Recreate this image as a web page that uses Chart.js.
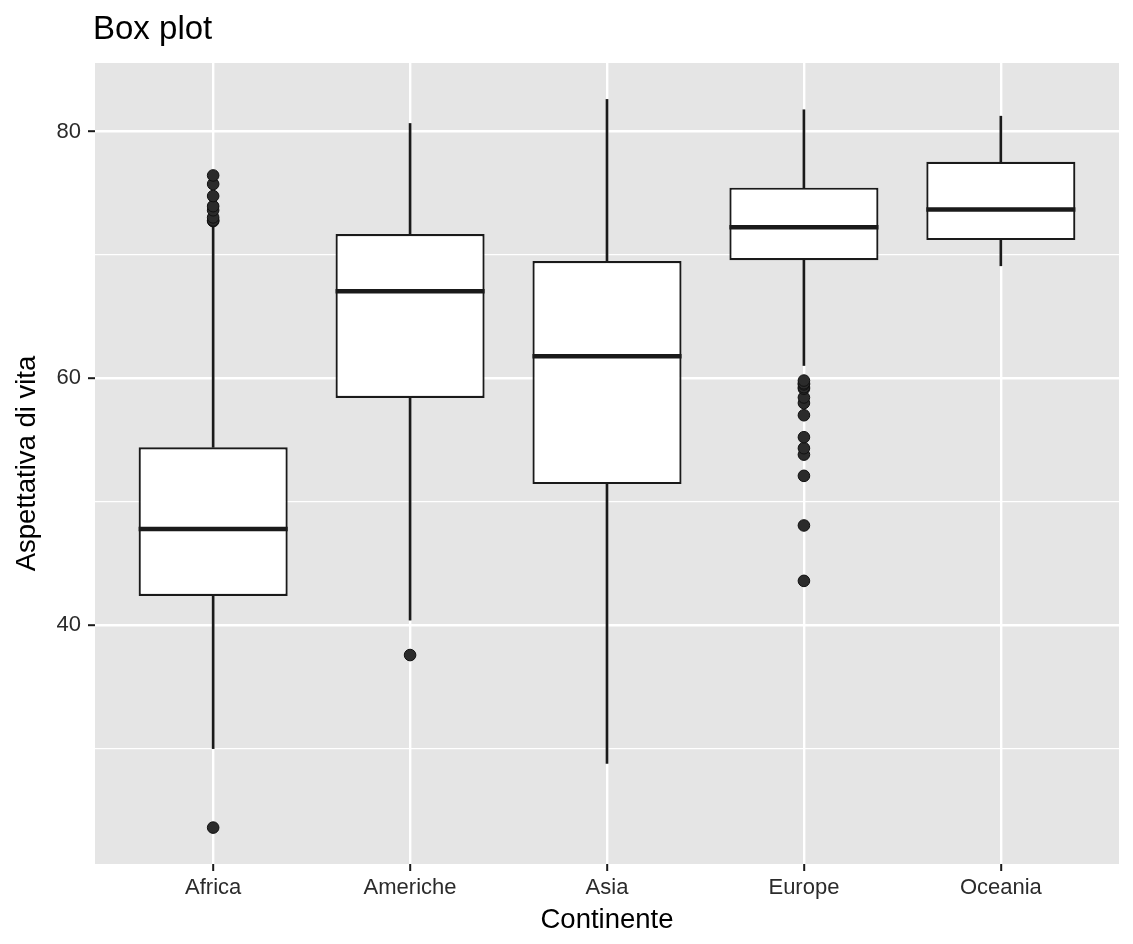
<!DOCTYPE html>
<html>
<head>
<meta charset="utf-8">
<title>Box plot</title>
<script src="https://cdn.jsdelivr.net/npm/chart.js@4.4.1/dist/chart.umd.min.js"></script>
<style>
    html, body { margin: 0; padding: 0; background: #ffffff; }
    #wrap { width: 1133px; height: 944px; position: relative; }
</style>
</head>
<body>
<div id="wrap"><canvas id="boxChart"></canvas></div>
<script>
// Life expectancy per continent
const continents = ['Africa', 'Americhe', 'Asia', 'Europe', 'Oceania'];
const lowerWhisker = [30.00, 40.41, 28.80, 61.04, 69.12];
const lowerQuartile = [42.37, 58.41, 51.43, 69.57, 71.20];
const medians = [47.79, 67.05, 61.79, 72.24, 73.67];
const upperQuartile = [54.41, 71.70, 69.51, 75.45, 77.55];
const upperWhisker = [72.30, 80.65, 82.60, 81.76, 81.24];

// Outliers, one list per continent
const africaOutliers = [23.60, 72.74, 72.80, 73.04, 73.62, 73.95, 74.77, 75.74, 76.44];
const americheOutliers = [37.58];
const asiaOutliers = [];
const europeOutliers = [43.59, 48.08, 52.10, 53.82, 54.34, 55.23, 57.01, 58.00, 58.45, 59.16, 59.28, 59.51, 59.60, 59.82];
const oceaniaOutliers = [];

const yTicks = [30, 40, 50, 60, 70, 80];
const yMajorTicks = [40, 60, 80];
const yMin = 20.65;
const yMax = 85.55;

// continents sit at positions 1..5, ggplot pads a discrete axis by 0.6
const xPositions = continents.map((c, i) => i + 1);
const xMin = 0.4;
const xMax = 5.6;

const FONT = '"Liberation Sans", Arial, Helvetica, sans-serif';
const INK = '#1A1A1A';

const outlierPoints = [africaOutliers, americheOutliers, asiaOutliers, europeOutliers, oceaniaOutliers]
    .flatMap((list, i) => list.map(v => ({ x: xPositions[i], y: v })));

// Grey panel behind the grid, like ggplot's theme_grey
const panelBackground = {
    id: 'panelBackground',
    beforeDraw(chart) {
        const { ctx, chartArea } = chart;
        ctx.save();
        ctx.fillStyle = '#E5E5E5';
        ctx.fillRect(chartArea.left, chartArea.top, chartArea.right - chartArea.left, chartArea.bottom - chartArea.top);
        ctx.restore();
    }
};

// Median bars across each box, plus the plot title
const medianLines = {
    id: 'medianLines',
    afterDatasetsDraw(chart) {
        const { ctx } = chart;
        const yScale = chart.scales.y;
        const boxes = chart.getDatasetMeta(0).data;
        ctx.save();
        ctx.strokeStyle = INK;
        ctx.lineWidth = 4.5;
        boxes.forEach((bar, i) => {
            const y = yScale.getPixelForValue(medians[i]);
            const half = bar.width / 2;
            ctx.beginPath();
            ctx.moveTo(bar.x - half, y);
            ctx.lineTo(bar.x + half, y);
            ctx.stroke();
        });
        ctx.restore();
    },
    afterDraw(chart) {
        const { ctx, chartArea } = chart;
        ctx.save();
        ctx.font = '33px ' + FONT;
        ctx.fillStyle = '#000000';
        ctx.textBaseline = 'alphabetic';
        ctx.textAlign = 'left';
        ctx.fillText('Box plot', chartArea.left - 2, 39);
        ctx.restore();
    }
};

const whiskerStyle = {
    type: 'bar',
    backgroundColor: INK,
    borderWidth: 0,
    barThickness: 2,
    grouped: false
};

const config = {
    type: 'bar',
    data: {
        datasets: [
            {
                label: 'box',
                data: xPositions.map((x, i) => ({ x: x, y: [lowerQuartile[i], upperQuartile[i]] })),
                backgroundColor: '#FFFFFF',
                borderColor: INK,
                borderWidth: 2.2,
                borderSkipped: false,
                barPercentage: 0.757,
                categoryPercentage: 1,
                grouped: false
            },
            {
                label: 'outliers',
                type: 'line',
                data: outlierPoints,
                showLine: false,
                pointRadius: 5.8,
                pointBackgroundColor: '#2B2B2B',
                pointBorderColor: '#111111',
                pointBorderWidth: 1
            },
            Object.assign({
                label: 'upper whisker',
                data: xPositions.map((x, i) => ({ x: x, y: [upperQuartile[i], upperWhisker[i]] }))
            }, whiskerStyle),
            Object.assign({
                label: 'lower whisker',
                data: xPositions.map((x, i) => ({ x: x, y: [lowerWhisker[i], lowerQuartile[i]] }))
            }, whiskerStyle)
        ]
    },
    options: {
        responsive: true,
        maintainAspectRatio: false,
        animation: false,
        layout: {
            padding: { top: 63, right: 14, bottom: 0, left: 0 }
        },
        plugins: {
            legend: { display: false },
            tooltip: { enabled: false },
            title: { display: false }
        },
        scales: {
            x: {
                type: 'linear',
                min: xMin,
                max: xMax,
                offset: false,
                border: { display: false },
                afterBuildTicks(scale) {
                    scale.ticks = xPositions.map(v => ({ value: v }));
                },
                grid: {
                    offset: false,
                    color: '#FFFFFF',
                    lineWidth: 2.4,
                    drawTicks: true,
                    tickLength: 7,
                    tickColor: INK,
                    tickWidth: 2
                },
                ticks: {
                    color: '#2B2B2B',
                    font: { family: FONT, size: 22 },
                    padding: 4,
                    maxRotation: 0,
                    autoSkip: false,
                    callback: value => continents[value - 1]
                },
                title: {
                    display: true,
                    text: 'Continente',
                    color: '#000000',
                    font: { family: FONT, size: 27.5 },
                    padding: { top: 0, bottom: 7 }
                },
                afterFit(scale) { scale.height = 80; }
            },
            y: {
                min: yMin,
                max: yMax,
                border: { display: false },
                afterBuildTicks(scale) {
                    scale.ticks = yTicks.map(v => ({ value: v }));
                },
                grid: {
                    color: '#FFFFFF',
                    lineWidth: ctx => yMajorTicks.includes(ctx.tick && ctx.tick.value) ? 2.4 : 1.2,
                    drawTicks: true,
                    tickLength: 7,
                    tickColor: ctx => yMajorTicks.includes(ctx.tick && ctx.tick.value) ? INK : 'rgba(0,0,0,0)',
                    tickWidth: 2
                },
                ticks: {
                    color: '#2B2B2B',
                    font: { family: FONT, size: 22 },
                    padding: 7,
                    callback: value => yMajorTicks.includes(value) ? String(value) : ''
                },
                title: {
                    display: true,
                    text: 'Aspettativa di vita',
                    color: '#000000',
                    font: { family: FONT, size: 27.5 },
                    padding: { top: 11, bottom: 0 }
                },
                afterFit(scale) { scale.width = 95; }
            }
        }
    },
    plugins: [panelBackground, medianLines]
};

new Chart(document.getElementById('boxChart').getContext('2d'), config);
</script>
</body>
</html>
